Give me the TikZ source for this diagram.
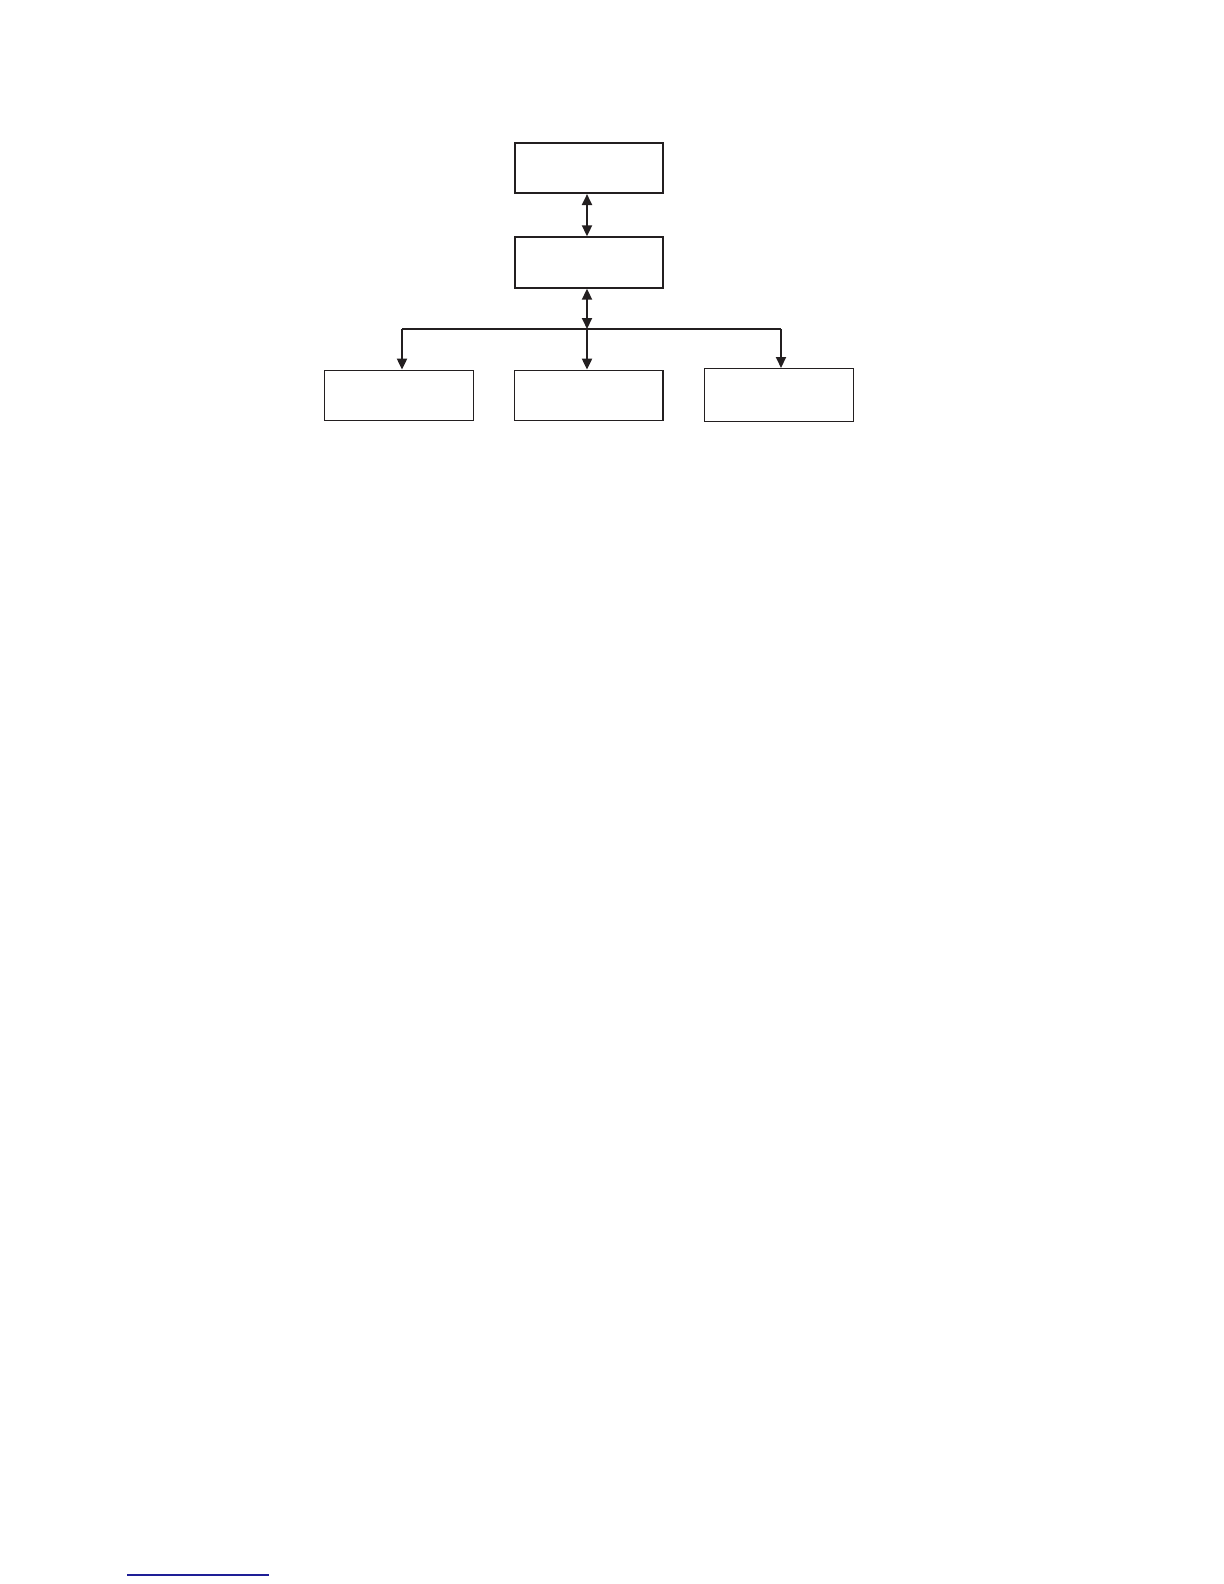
\documentclass[tikz,border=0pt]{standalone}
\usetikzlibrary{arrows.meta}
\definecolor{ink}{RGB}{35,31,32}
\definecolor{rulebl}{RGB}{30,30,150}
\tikzset{
  box/.style={draw=ink, rectangle, inner sep=0pt, minimum width=74.25pt, minimum height=25.2pt},
  thickbox/.style={box, line width=1pt},
  thinbox/.style={box, line width=0.7pt},
  conn/.style={draw=ink, line width=1pt},
  tip/.style={-{Triangle[length=5.5pt,width=5pt]}},
  tips/.style={{Triangle[length=5.5pt,width=5pt]}-{Triangle[length=5.5pt,width=5pt]}},
}
\begin{document}
\begin{tikzpicture}[x=0.5pt,y=-0.5pt]
\useasboundingbox (0,0) rectangle (1224,1584);
\node[thickbox] (top) at (588.75,167.85) {};
\node[thickbox] (mid) at (588.75,262.5) {};
\node[thinbox] (bl) at (399,395.5) {};
\node[thinbox] (bm) at (588.75,395.5) {};
\node[thinbox, minimum height=26.4pt] (br) at (779,395.1) {};
\coordinate (jc) at (587,329);
\coordinate (jl) at (402,329);
\coordinate (jr) at (781,329);
\draw[conn,tips] (top.south -| jc) -- (mid.north -| jc);
\draw[conn,tips] (mid.south -| jc) -- (jc);
\draw[conn] (jl) -- (jr);
\draw[conn,tip] (jl) -- (bl.north -| jl);
\draw[conn,tip] (jc) -- (bm.north -| jc);
\draw[conn,tip] (jr) -- (br.north -| jr);
\draw[rulebl, line width=0.6pt] (127,1575) -- (269,1575);
\end{tikzpicture}
\end{document}
